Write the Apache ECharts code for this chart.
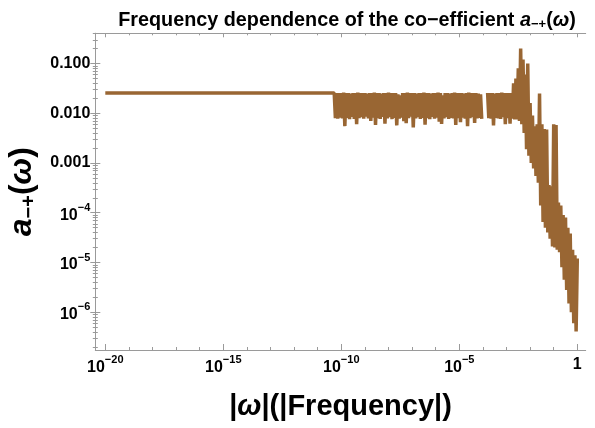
<!DOCTYPE html>
<html>
<head>
<meta charset="utf-8">
<script src="https://cdn.jsdelivr.net/npm/echarts@6/dist/echarts.min.js"></script>
<style>
  html, body { margin: 0; padding: 0; background: #ffffff; }
  #chart { width: 595px; height: 428px; }
</style>
</head>
<body>
<div id="chart"></div>
<script>
// Flat low-frequency part of a_{-+}(ω)
const flatOmega = [1e-20, 5.012e-11];
const flatCoeff = [0.0255, 0.0255];

// Oscillating plateau, 10^-10.25 .. 10^-4.05
const plateauOmega = [
  5.623e-11, 6.310e-11, 7.079e-11, 7.943e-11, 8.913e-11,
  1e-10, 1.122e-10, 1.259e-10, 1.413e-10, 1.585e-10, 1.778e-10, 1.995e-10, 2.239e-10, 2.512e-10, 2.818e-10,
  3.162e-10, 3.548e-10, 3.981e-10, 4.467e-10, 5.012e-10, 5.623e-10, 6.310e-10, 7.079e-10, 7.943e-10, 8.913e-10,
  1e-9, 1.122e-9, 1.259e-9, 1.413e-9, 1.585e-9, 1.778e-9, 1.995e-9, 2.239e-9, 2.512e-9, 2.818e-9,
  3.162e-9, 3.548e-9, 3.981e-9, 4.467e-9, 5.012e-9, 5.623e-9, 6.310e-9, 7.079e-9, 7.943e-9, 8.913e-9,
  1e-8, 1.122e-8, 1.259e-8, 1.413e-8, 1.585e-8, 1.778e-8, 1.995e-8, 2.239e-8, 2.512e-8, 2.818e-8,
  3.162e-8, 3.548e-8, 3.981e-8, 4.467e-8, 5.012e-8, 5.623e-8, 6.310e-8, 7.079e-8, 7.943e-8, 8.913e-8,
  1e-7, 1.122e-7, 1.259e-7, 1.413e-7, 1.585e-7, 1.778e-7, 1.995e-7, 2.239e-7, 2.512e-7, 2.818e-7,
  3.162e-7, 3.548e-7, 3.981e-7, 4.467e-7, 5.012e-7, 5.623e-7, 6.310e-7, 7.079e-7, 7.943e-7, 8.913e-7,
  1e-6, 1.122e-6, 1.259e-6, 1.413e-6, 1.585e-6, 1.778e-6, 1.995e-6, 2.239e-6, 2.512e-6, 2.818e-6,
  3.162e-6, 3.548e-6, 3.981e-6, 4.467e-6, 5.012e-6, 5.623e-6, 6.310e-6, 7.079e-6, 7.943e-6, 8.913e-6,
  1e-5, 1.122e-5, 1.259e-5, 1.413e-5, 1.585e-5, 1.778e-5, 1.995e-5, 2.239e-5, 2.512e-5, 2.818e-5,
  3.162e-5, 3.548e-5, 3.981e-5, 4.467e-5, 5.012e-5, 5.623e-5, 6.310e-5, 7.079e-5, 7.943e-5, 8.913e-5
];
const plateauCoeff = [
  0.0080, 0.0255, 0.0078, 0.0255, 0.0082,
  0.0255, 0.0079, 0.026, 0.0055, 0.0255, 0.0081, 0.0255, 0.0076, 0.025, 0.0084,
  0.0255, 0.0077, 0.0255, 0.0060, 0.026, 0.0080, 0.0255, 0.0083, 0.0255, 0.0078,
  0.0255, 0.0085, 0.025, 0.0079, 0.0255, 0.0070, 0.0255, 0.0082, 0.026, 0.0058,
  0.0255, 0.0080, 0.0255, 0.0077, 0.025, 0.0084, 0.0255, 0.0062, 0.0255, 0.0079,
  0.026, 0.0083, 0.0255, 0.0076, 0.0255, 0.0081, 0.0255, 0.0057, 0.024, 0.0078,
  0.023, 0.0082, 0.0255, 0.0069, 0.0255, 0.0063, 0.026, 0.0080, 0.0255, 0.0085,
  0.0255, 0.0052, 0.0255, 0.0079, 0.025, 0.0083, 0.0255, 0.0077, 0.0255, 0.0081,
  0.026, 0.0059, 0.0255, 0.0080, 0.0255, 0.0076, 0.025, 0.0084, 0.0255, 0.0078,
  0.0255, 0.0082, 0.026, 0.0068, 0.0255, 0.0061, 0.023, 0.0079, 0.0255, 0.0083,
  0.0255, 0.0077, 0.025, 0.0081, 0.0255, 0.0079, 0.026, 0.0058, 0.0255, 0.0080,
  0.0255, 0.0066, 0.0255, 0.0082, 0.025, 0.0078, 0.0255, 0.0055, 0.026, 0.0080,
  0.0255, 0.0083, 0.0255, 0.0064, 0.0255, 0.0079, 0.025, 0.0081, 0.024, 0.0077
];

// Missing samples between the two plateau pieces
const gapOmega = [1.2e-4];

// Second plateau piece, 10^-3.8 .. 10^-2.65
const plateau2Omega = [
  1.585e-4, 1.778e-4, 1.995e-4, 2.239e-4, 2.512e-4, 2.818e-4, 3.162e-4, 3.548e-4, 3.981e-4, 4.467e-4, 5.012e-4, 5.623e-4,
  6.310e-4, 7.079e-4, 7.943e-4, 8.913e-4, 1e-3, 1.122e-3, 1.259e-3, 1.413e-3, 1.585e-3, 1.778e-3, 1.995e-3, 2.239e-3
];
const plateau2Coeff = [
  0.0255, 0.0080, 0.0255, 0.0078, 0.0255, 0.0057, 0.025, 0.0081, 0.0255, 0.0079, 0.0255, 0.0077,
  0.026, 0.0083, 0.0255, 0.0060, 0.0255, 0.0080, 0.0255, 0.0062, 0.0255, 0.0078, 0.04, 0.0075
];

// Resonance peak and high-frequency roll-off, 10^-2.6 .. 1
const rolloffOmega = [
  2.512e-3, 2.818e-3, 3.162e-3, 3.548e-3, 3.981e-3, 4.467e-3, 5.012e-3, 5.623e-3, 6.310e-3, 7.079e-3, 7.943e-3, 8.913e-3,
  1.000e-2, 1.122e-2, 1.259e-2, 1.413e-2, 1.585e-2, 1.778e-2, 1.995e-2, 2.239e-2, 2.512e-2, 2.818e-2, 3.162e-2, 3.548e-2,
  3.981e-2, 4.467e-2, 5.012e-2, 5.623e-2, 6.310e-2, 7.079e-2, 7.943e-2, 8.913e-2,
  0.1, 0.1122, 0.1259, 0.1413, 0.1585, 0.1778, 0.1995, 0.2239, 0.2512, 0.2818, 0.3162, 0.3548,
  0.3981, 0.4467, 0.5012, 0.5623, 0.6310, 0.7079, 0.7943, 0.8913, 1
];
const rolloffCoeff = [
  0.05, 0.0075, 0.08, 0.007, 0.2, 0.006, 0.12, 0.004, 0.06, 0.0019, 0.1, 0.0014,
  0.016, 0.001, 0.009, 7.8e-4, 0.0055, 5.5e-4, 0.006, 4e-4, 0.025, 1.4e-4, 0.006, 6.5e-5,
  0.0048, 5e-5, 0.0047, 4e-5, 3.6e-4, 3e-5, 3.4e-4, 2.1e-5,
  0.006, 2e-5, 0.0058, 1.8e-5, 1.6e-4, 1.6e-5, 1.4e-4, 8e-6, 9e-5, 4.5e-6, 8e-5, 2.8e-6,
  5e-5, 1.5e-6, 3.8e-5, 1e-6, 1.8e-5, 6e-7, 1.4e-5, 4.1e-7, 1.2e-5
];

// Tick positions and labels
const xMajorTicks = [1e-20, 1e-15, 1e-10, 1e-5, 1];
const xTickLabels = ['{b|10}{s|−20}', '{b|10}{s|−15}', '{b|10}{s|−10}', '{b|10}{s|−5}', '{p|1}'];
const yMajorTicks = [1e-6, 1e-5, 1e-4, 1e-3, 1e-2, 1e-1];
const yTickLabels = ['{b|10}{s|−6}', '{b|10}{s|−5}', '{b|10}{s|−4}', '{p|0.001}', '{p|0.010}', '{p|0.100}'];

// Plot range
const X_MIN = 3.77e-21, X_MAX = 2.27;
const Y_MIN = 1.74e-7, Y_MAX = 0.405;

// Minor ticks: every decade on x, 2..9 per decade on y
const xMinorTicks = [];
for (let k = -20; k <= 0; k++) if (k % 5 !== 0) xMinorTicks.push(Math.pow(10, k));
const yMinorTicks = [];
for (let k = -7; k <= -1; k++) for (let m = 2; m <= 9; m++) {
  const v = m * Math.pow(10, k);
  if (v >= Y_MIN && v <= Y_MAX) yMinorTicks.push(v);
}

const seriesData = [];
function addSegment(ws, cs) { ws.forEach((w, i) => seriesData.push([w, cs[i]])); }
addSegment(flatOmega, flatCoeff);
addSegment(plateauOmega, plateauCoeff);
gapOmega.forEach(w => seriesData.push([w, '-']));
addSegment(plateau2Omega, plateau2Coeff);
addSegment(rolloffOmega, rolloffCoeff);

const FONT = 'Liberation Sans';
const FRAME = '#9a9a9a';
const tickRich = {
  p: { fontFamily: FONT, fontWeight: 'bold', fontSize: 16, color: '#000', lineHeight: 16 },
  b: { fontFamily: FONT, fontWeight: 'bold', fontSize: 16, color: '#000', lineHeight: 16, padding: [5, 0, 0, 0] },
  s: { fontFamily: FONT, fontWeight: 'bold', fontSize: 11, color: '#000', lineHeight: 11, padding: [0, 0, 10, 0] }
};

function findLabel(ticks, labels, v) {
  const i = ticks.findIndex(t => Math.abs(Math.log10(t) - Math.log10(v)) < 1e-6);
  return i >= 0 ? labels[i] : '';
}

function axisBase(min, max, position, ticks, tickLen, showLine) {
  return {
    type: 'log', logBase: 10, min: min, max: max, position: position,
    axisLine: { show: showLine, lineStyle: { color: FRAME, width: 1 } },
    axisTick: { show: true, inside: true, length: tickLen, customValues: ticks, lineStyle: { color: FRAME, width: 1 } },
    axisLabel: { show: false },
    splitLine: { show: false },
    minorTick: { show: false },
    nameMoveOverlap: false
  };
}

const xBottom = axisBase(X_MIN, X_MAX, 'bottom', xMajorTicks, 6, true);
xBottom.axisLabel = {
  show: true, customValues: xMajorTicks, margin: 7,
  formatter: v => findLabel(xMajorTicks, xTickLabels, v),
  rich: tickRich
};
xBottom.name = '|{i|ω}|(|Frequency|)';
xBottom.nameLocation = 'middle';
xBottom.nameGap = 42;
xBottom.nameTextStyle = {
  fontFamily: FONT, fontWeight: 'bold', fontSize: 29, color: '#000',
  rich: { i: { fontFamily: FONT, fontWeight: 'bold', fontStyle: 'italic', fontSize: 29, color: '#000' } }
};

const yLeft = axisBase(Y_MIN, Y_MAX, 'left', yMajorTicks, 5, true);
yLeft.axisLabel = {
  show: true, customValues: yMajorTicks, margin: 5,
  formatter: v => findLabel(yMajorTicks, yTickLabels, v),
  rich: tickRich
};
yLeft.name = '{i|a}{sub|−+}({i|ω})';
yLeft.nameLocation = 'middle';
yLeft.nameRotate = 90;
yLeft.nameGap = 57;
yLeft.nameTextStyle = {
  fontFamily: FONT, fontWeight: 'bold', fontSize: 32, color: '#000', lineHeight: 32,
  rich: {
    i: { fontFamily: FONT, fontWeight: 'bold', fontStyle: 'italic', fontSize: 32, color: '#000', lineHeight: 32 },
    sub: { fontFamily: FONT, fontWeight: 'bold', fontSize: 20, color: '#000', lineHeight: 20, padding: [14, 0, 0, 0] }
  }
};

const option = {
  animation: false,
  backgroundColor: '#ffffff',
  title: {
    text: 'Frequency dependence of the co−efficient {i|a}{sub|−+}({i|ω})',
    left: 342, top: 4, textAlign: 'center',
    textStyle: {
      fontFamily: FONT, fontWeight: 'bold', fontSize: 19.8, color: '#000', lineHeight: 23,
      rich: {
        i: { fontFamily: FONT, fontWeight: 'bold', fontStyle: 'italic', fontSize: 19.8, color: '#000', lineHeight: 23 },
        sub: { fontFamily: FONT, fontWeight: 'bold', fontSize: 13, color: '#000', lineHeight: 13, padding: [8, 0, 0, 0] }
      }
    }
  },
  grid: { left: 95.3, top: 33.3, width: 490.4, height: 316.7, outerBoundsMode: 'none', containLabel: false },
  xAxis: [
    xBottom,
    axisBase(X_MIN, X_MAX, 'bottom', xMinorTicks, 3, false),
    axisBase(X_MIN, X_MAX, 'top', xMajorTicks, 4, true),
    axisBase(X_MIN, X_MAX, 'top', xMinorTicks, 2, false)
  ],
  yAxis: [
    yLeft,
    axisBase(Y_MIN, Y_MAX, 'left', yMinorTicks, 2.5, false),
    axisBase(Y_MIN, Y_MAX, 'right', yMajorTicks, 5, true),
    axisBase(Y_MIN, Y_MAX, 'right', yMinorTicks, 2.5, false)
  ],
  series: [{
    type: 'line',
    xAxisIndex: 0, yAxisIndex: 0,
    data: seriesData,
    showSymbol: false,
    symbol: 'none',
    connectNulls: false,
    lineStyle: { color: '#996633', width: 3.5, join: 'bevel', cap: 'butt' },
    emphasis: { disabled: true },
    silent: true
  }]
};

const chart = echarts.init(document.getElementById('chart'), null, { renderer: 'canvas' });
chart.setOption(option);
</script>
</body>
</html>
